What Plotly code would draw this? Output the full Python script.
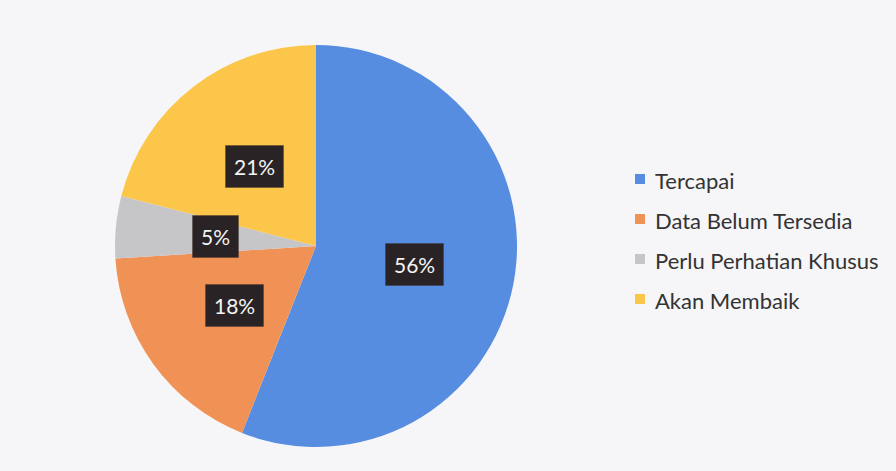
import math
import plotly.graph_objects as go

categories = ["Tercapai", "Data Belum Tersedia", "Perlu Perhatian Khusus", "Akan Membaik"]
values = [56, 18, 5, 21]
colors = ["#578de0", "#f09256", "#c6c6c8", "#fcc64a"]

W, H = 896, 471
cx, cy, r = 316, 246, 201  # pie centre and radius in pixels

fig = go.Figure(go.Pie(
    labels=categories,
    values=values,
    marker=dict(colors=colors, line=dict(width=0)),
    sort=False,
    direction="clockwise",
    rotation=0,
    textinfo="none",
    hoverinfo="label+percent",
    showlegend=False,
    domain=dict(x=[(cx - r) / W, (cx + r) / W], y=[(H - cy - r) / H, (H - cy + r) / H]),
))

# value labels: dark boxes at half radius on each slice's mid angle
total = sum(values)
acc = 0
for v in values:
    mid = (acc + v / 2) / total * 2 * math.pi
    acc += v
    px = cx + 0.5 * r * math.sin(mid)
    py = cy - 0.5 * r * math.cos(mid)
    fig.add_annotation(
        x=px / W, y=1 - py / H, xref="paper", yref="paper",
        xanchor="center", yanchor="middle",
        text=f"{v}%", showarrow=False,
        font=dict(family="Lato, Open Sans, sans-serif", size=21, color="#f4f4f4"),
        bgcolor="#2a2326", bordercolor="rgba(70,50,40,0.35)", borderwidth=1,
        borderpad=8,
    )

# legend drawn as square swatches with labels
lx, ly0, gap, sw = 635, 179, 40, 10
for i, (name, col) in enumerate(zip(categories, colors)):
    y = ly0 + i * gap
    fig.add_shape(type="rect", xref="paper", yref="paper",
                  x0=lx / W, x1=(lx + sw) / W,
                  y0=1 - (y + sw / 2) / H, y1=1 - (y - sw / 2) / H,
                  fillcolor=col, line=dict(width=0))
    fig.add_annotation(
        x=(lx + sw + 8) / W, y=1 - (y + 1) / H, xref="paper", yref="paper",
        text=name, showarrow=False, xanchor="left", yanchor="middle",
        font=dict(family="Lato, Open Sans, sans-serif", size=22, color="#333333"),
    )

fig.update_layout(
    width=W, height=H,
    margin=dict(l=0, r=0, t=0, b=0),
    paper_bgcolor="#f6f6f8",
    plot_bgcolor="#f6f6f8",
)

fig.write_html("out.html")
